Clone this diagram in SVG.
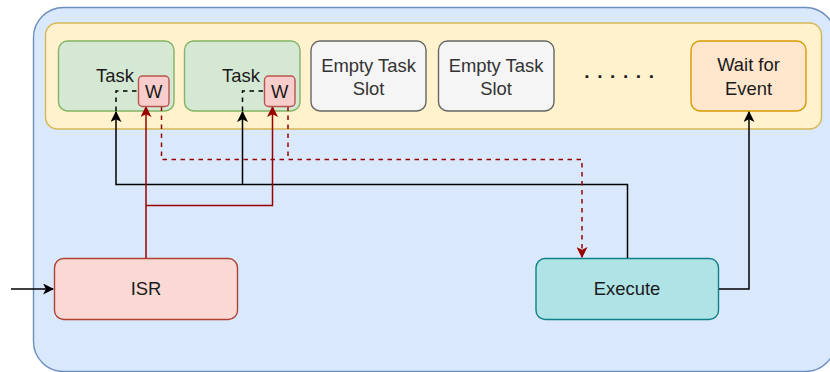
<svg xmlns="http://www.w3.org/2000/svg" width="830" height="372" viewBox="0 0 830 372">
<defs>
<marker id="ab" viewBox="0 0 10 10" refX="9" refY="5" markerWidth="11" markerHeight="11" markerUnits="userSpaceOnUse" orient="auto"><path d="M0,0 L10,5 L0,10 L2.5,5 Z" fill="#000"/></marker>
<marker id="ar" viewBox="0 0 10 10" refX="9" refY="5" markerWidth="11" markerHeight="11" markerUnits="userSpaceOnUse" orient="auto"><path d="M0,0 L10,5 L0,10 L2.5,5 Z" fill="#990000"/></marker>
<style>
text{font-family:"Liberation Sans",Arial,sans-serif;font-size:18.4px;text-anchor:middle;fill:#1a1a1a}
.e{fill:#333333}
.blk{fill:none;stroke:#000;stroke-width:1.5}
.red{fill:none;stroke:#990000;stroke-width:1.5}
.dash{stroke-dasharray:4.5 4.5}
.task{fill:#d5e8d4;stroke:#82b366;stroke-width:1.4}
.w{fill:#f8cecc;stroke:#b85450;stroke-width:1.4}
.empty{fill:#f5f5f5;stroke:#666666;stroke-width:1.4}
</style>
</defs>
<g id="container">
<rect x="33.5" y="7.5" width="802" height="364" rx="30" fill="#dae8fc" stroke="#6c8ebf" stroke-width="1.4"/>
</g>
<g id="tasklist">
<rect x="45.5" y="23" width="776" height="106" rx="12" fill="#fff2cc" stroke="#d6b656" stroke-width="1.4"/>
</g>
<g id="task1">
<rect class="task" x="58.5" y="41" width="115.5" height="70" rx="9"/>
<text x="115" y="82">Task</text>
</g>
<g id="task2">
<rect class="task" x="184.5" y="41" width="115.5" height="70" rx="9"/>
<text x="241" y="82">Task</text>
</g>
<g id="empty1">
<rect class="empty" x="311" y="41" width="115" height="70" rx="9"/>
<text class="e" x="368.5" y="72">Empty Task</text>
<text class="e" x="368.5" y="95">Slot</text>
</g>
<g id="empty2">
<rect class="empty" x="438.5" y="41" width="115.5" height="70" rx="9"/>
<text class="e" x="496" y="72">Empty Task</text>
<text class="e" x="496" y="95">Slot</text>
</g>
<g id="dots">
<text x="619" y="78" style="letter-spacing:7.6px;font-size:19px;font-weight:bold" dx="4">......</text>
</g>
<g id="wait">
<rect x="691" y="41" width="115" height="70" rx="9" fill="#ffe6cc" stroke="#d79b00" stroke-width="1.4"/>
<text x="748.5" y="71">Wait for</text>
<text x="748.5" y="95">Event</text>
</g>
<g id="isr">
<rect x="54.5" y="258.5" width="183" height="61" rx="9" fill="#fad9d5" stroke="#ae4132" stroke-width="1.4"/>
<text x="146" y="295">ISR</text>
</g>
<g id="execute">
<rect x="536" y="258.5" width="182.5" height="61" rx="9" fill="#b0e3e6" stroke="#0e8088" stroke-width="1.4"/>
<text x="627" y="295">Execute</text>
</g>
<g id="connectors">
<path class="blk" d="M11,289 H53" marker-end="url(#ab)"/>
<path class="blk" d="M627.5,258 V184.5 H116 V112" marker-end="url(#ab)"/>
<path class="blk" d="M242.5,184.5 V112" marker-end="url(#ab)"/>
<path class="blk" d="M719,289 H749 V112" marker-end="url(#ab)"/>
<path class="blk dash" d="M116,111 V91 H138"/>
<path class="blk dash" d="M242.5,111 V91 H264"/>
<path class="red" d="M146,258 V107" marker-end="url(#ar)"/>
<path class="red" d="M146,205.5 H272.5 V107" marker-end="url(#ar)"/>
<path class="red dash" d="M161.5,106.5 V159.5 H582 V257" marker-end="url(#ar)"/>
<path class="red dash" d="M288,106.5 V159.5"/>
</g>
<g id="w1">
<rect class="w" x="138.5" y="76" width="30.5" height="30.5" rx="4"/>
<text x="153.8" y="98">W</text>
</g>
<g id="w2">
<rect class="w" x="264.5" y="76" width="30.5" height="30.5" rx="4"/>
<text x="279.8" y="98">W</text>
</g>
</svg>
